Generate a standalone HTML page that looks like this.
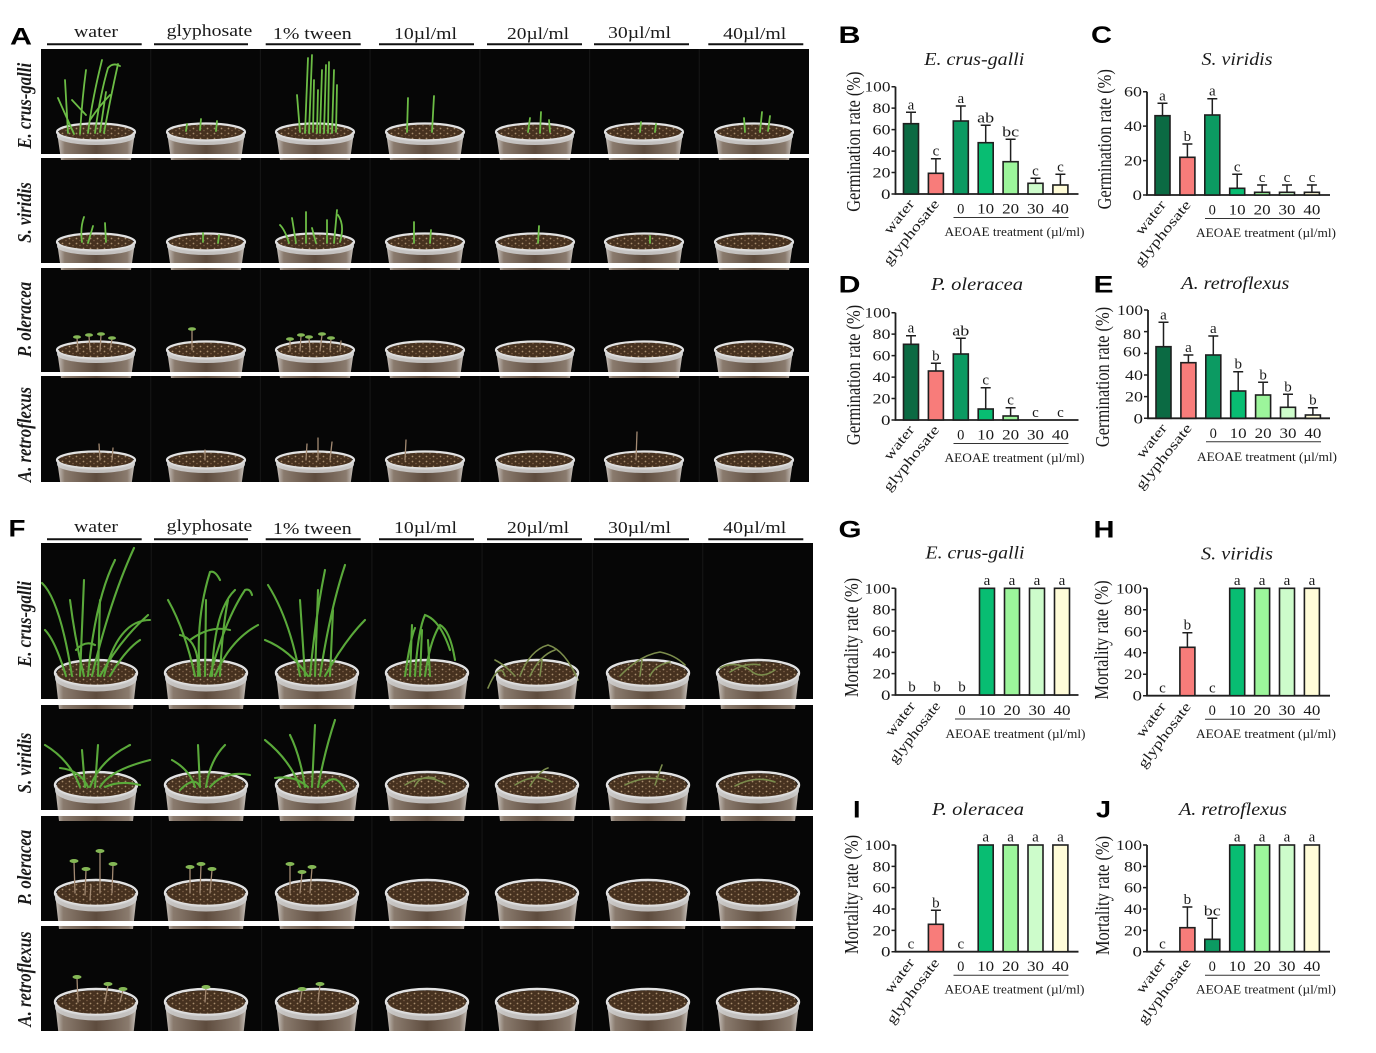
<!DOCTYPE html>
<html><head><meta charset="utf-8"><style>
html,body{margin:0;padding:0;background:#fff;}
svg{display:block;}
.t{font-family:"Liberation Serif",serif;fill:#1a1a1a;}
.pl{font-family:"Liberation Sans",sans-serif;font-weight:bold;fill:#000;}
.ax{stroke:#1f1f1f;stroke-width:1.8;fill:none;}
.tk{stroke:#1f1f1f;stroke-width:1.5;fill:none;}
.er{stroke:#1f1f1f;stroke-width:1.5;fill:none;}
.bars rect{stroke:#1f1f1f;stroke-width:1.6;}
.g1{stroke:#6cbd45;stroke-width:1.8;fill:none;stroke-linecap:round;}
.g2{stroke:#5aa93a;stroke-width:2.1;fill:none;stroke-linecap:round;}
.w{stroke:#7b8c4c;stroke-width:1.6;fill:none;stroke-linecap:round;}
.st{stroke:#a38a72;stroke-width:1.3;fill:none;stroke-linecap:round;}
.hd{fill:#84b755;}
</style></head><body>
<svg width="1376" height="1053" viewBox="0 0 1376 1053" xmlns="http://www.w3.org/2000/svg">
<defs>
<linearGradient id="cupg" x1="0" x2="1" y1="0" y2="0">
<stop offset="0" stop-color="#cfcac5"/><stop offset="0.1" stop-color="#8a7b6e"/><stop offset="0.5" stop-color="#5e4c3e"/><stop offset="0.9" stop-color="#8a7b6e"/><stop offset="1" stop-color="#cfcac5"/>
</linearGradient>
<pattern id="soil" width="7" height="5" patternUnits="userSpaceOnUse">
<rect width="7" height="5" fill="#46311f"/><circle cx="1.5" cy="1.5" r="0.9" fill="#a88c6c"/><circle cx="5" cy="3.5" r="0.8" fill="#7a5e46"/>
</pattern>
<g id="cupA">
<path d="M-39,0 L-35,28 L35,28 L39,0 Z" fill="url(#cupg)"/>
<ellipse rx="37" ry="7.5" fill="url(#soil)"/>
<ellipse rx="39" ry="8.5" fill="none" stroke="#e2e2e2" stroke-width="2.2"/>
</g>
<g id="lipA"><path d="M-39,0 A39,8.5 0 0 0 39,0 L39,4.5 A39,8.5 0 0 1 -39,4.5 Z" fill="#d2d2d2" opacity="0.85"/></g>
<g id="cupF">
<path d="M-41,0 L-37,36 L37,36 L41,0 Z" fill="url(#cupg)"/>
<ellipse rx="39" ry="11.5" fill="url(#soil)"/>
<ellipse rx="41" ry="13" fill="none" stroke="#e2e2e2" stroke-width="2.4"/>
</g>
<g id="lipF"><path d="M-41,0 A41,13 0 0 0 41,0 L41,5.5 A41,13 0 0 1 -41,5.5 Z" fill="#cfcfcf" opacity="0.85"/></g>
<clipPath id="clipA">
<rect x="41" y="49" width="768" height="105"/><rect x="41" y="158" width="768" height="105"/><rect x="41" y="268" width="768" height="104"/><rect x="41" y="376" width="768" height="106"/>
</clipPath>
<clipPath id="clipF">
<rect x="41" y="543" width="772" height="156"/><rect x="41" y="705" width="772" height="105"/><rect x="41" y="816" width="772" height="105"/><rect x="41" y="926" width="772" height="105"/>
</clipPath>
</defs>
<rect width="1376" height="1053" fill="#fff"/>

<!-- ================= PANEL A ================= -->
<text class="pl" x="10" y="44.5" font-size="24" textLength="22" lengthAdjust="spacingAndGlyphs">A</text>
<g class="t" font-size="16.5" text-anchor="middle">
<text x="96" y="37" textLength="44" lengthAdjust="spacingAndGlyphs">water</text>
<text x="209.5" y="36" textLength="85.6" lengthAdjust="spacingAndGlyphs">glyphosate</text>
<text x="312.3" y="39" textLength="78.7" lengthAdjust="spacingAndGlyphs">1% tween</text>
<text x="425.5" y="39" textLength="63" lengthAdjust="spacingAndGlyphs">10µl/ml</text>
<text x="538" y="39" textLength="62" lengthAdjust="spacingAndGlyphs">20µl/ml</text>
<text x="639.5" y="38" textLength="63" lengthAdjust="spacingAndGlyphs">30µl/ml</text>
<text x="754.7" y="39" textLength="63" lengthAdjust="spacingAndGlyphs">40µl/ml</text>
</g>
<path d="M47,44.3H141.7M154,44.3H248M265.7,44.3H360.7M379,44.3H474M487,44.3H582M594,44.3H689M708.3,44.3H803.3" stroke="#111" stroke-width="2"/>
<g class="t" font-size="16.8" font-weight="bold" font-style="italic" text-anchor="middle">
<text transform="translate(31,105.8) scale(1.2,1) rotate(-90)">E. crus-galli</text>
<text transform="translate(31,212.5) scale(1.2,1) rotate(-90)">S. viridis</text>
<text transform="translate(31,319.5) scale(1.2,1) rotate(-90)">P. oleracea</text>
<text transform="translate(31,434.5) scale(1.2,1) rotate(-90)">A. retroflexus</text>
</g>
<g clip-path="url(#clipA)">
<rect x="41" y="40" width="768" height="450" fill="#060606"/>
<path d="M150.7,40V490M260.4,40V490M370.1,40V490M479.9,40V490M589.6,40V490M699.3,40V490" stroke="#141414" stroke-width="1.2"/>
<g>
<use href="#cupA" x="96" y="132"/><use href="#cupA" x="206" y="132"/><use href="#cupA" x="315" y="132"/><use href="#cupA" x="425" y="132"/><use href="#cupA" x="535" y="132"/><use href="#cupA" x="644" y="132"/><use href="#cupA" x="754" y="132"/>
<use href="#cupA" x="96" y="242"/><use href="#cupA" x="206" y="242"/><use href="#cupA" x="315" y="242"/><use href="#cupA" x="425" y="242"/><use href="#cupA" x="535" y="242"/><use href="#cupA" x="644" y="242"/><use href="#cupA" x="754" y="242"/>
<use href="#cupA" x="96" y="350"/><use href="#cupA" x="206" y="350"/><use href="#cupA" x="315" y="350"/><use href="#cupA" x="425" y="350"/><use href="#cupA" x="535" y="350"/><use href="#cupA" x="644" y="350"/><use href="#cupA" x="754" y="350"/>
<use href="#cupA" x="96" y="460"/><use href="#cupA" x="206" y="460"/><use href="#cupA" x="315" y="460"/><use href="#cupA" x="425" y="460"/><use href="#cupA" x="535" y="460"/><use href="#cupA" x="644" y="460"/><use href="#cupA" x="754" y="460"/>
</g>
<!-- plants A -->
<path class="g1" d="M68,133L65,80 M74,134L58,98 M80,134Q82,100 86,70 M88,133Q92,100 102,60 M95,133Q100,95 108,68Q113,62 120,66 M100,132L106,92 M104,133Q110,100 118,64 M86,115L72,100 M90,120Q100,105 110,95"/>
<path class="g1" d="M200,130L201,119 M216,131L217,121 M186,131L187,124"/>
<path class="g1" stroke-width="2" d="M300,132L297,95 M305,133L308,58 M309,133L312,55 M313,132L314,80 M320,133L322,70 M324,133L326,65 M328,133L329,62 M332,133L334,70 M336,132L337,85 M317,133L318,90"/>
<path class="g1" d="M407,132L408,98 M432,132L434,96 M528,132L530,118 M540,133L541,112 M550,132L549,120 M640,132L641,122 M655,132L656,124 M745,132L744,118 M760,132L762,112 M768,131L770,116"/>
<path class="g1" d="M82,242Q80,228 84,217 M88,243L93,226 M106,242L105,223 M203,242L203,233 M218,243L219,235 M289,243Q285,230 280,225 M296,243L292,218 M306,243L306,212 M316,243L312,228 M327,243L327,220 M334,243L337,210 M340,242Q345,225 338,215 M414,243L414,222 M430,243L431,230 M538,243L539,226 M650,243L650,236"/>
<path class="st" d="M78,351L77,338 M90,350L89,336 M100,351L101,335 M110,350L112,339 M192,350L192,330 M290,351L290,340 M300,351L301,336 M310,350L309,338 M320,351L322,335 M330,350L331,339 M340,351L341,341"/>
<g class="hd"><ellipse cx="77" cy="337" rx="4" ry="1.8"/><ellipse cx="89" cy="335" rx="4" ry="1.8"/><ellipse cx="101" cy="334" rx="4" ry="1.8"/><ellipse cx="112" cy="338" rx="4" ry="1.8"/><ellipse cx="192" cy="329" rx="4" ry="1.8"/><ellipse cx="290" cy="339" rx="4" ry="1.8"/><ellipse cx="301" cy="335" rx="4" ry="1.8"/><ellipse cx="309" cy="337" rx="4" ry="1.8"/><ellipse cx="322" cy="334" rx="4" ry="1.8"/><ellipse cx="331" cy="338" rx="4" ry="1.8"/></g>
<path class="st" stroke="#b8a890" d="M100,460L99,444 M112,460L113,448 M205,460L205,450 M306,460L307,444 M318,460L318,438 M330,460L332,442 M405,460L406,440 M636,460L637,432"/>
<g>
<use href="#lipA" x="96" y="132"/><use href="#lipA" x="206" y="132"/><use href="#lipA" x="315" y="132"/><use href="#lipA" x="425" y="132"/><use href="#lipA" x="535" y="132"/><use href="#lipA" x="644" y="132"/><use href="#lipA" x="754" y="132"/>
<use href="#lipA" x="96" y="242"/><use href="#lipA" x="206" y="242"/><use href="#lipA" x="315" y="242"/><use href="#lipA" x="425" y="242"/><use href="#lipA" x="535" y="242"/><use href="#lipA" x="644" y="242"/><use href="#lipA" x="754" y="242"/>
<use href="#lipA" x="96" y="350"/><use href="#lipA" x="206" y="350"/><use href="#lipA" x="315" y="350"/><use href="#lipA" x="425" y="350"/><use href="#lipA" x="535" y="350"/><use href="#lipA" x="644" y="350"/><use href="#lipA" x="754" y="350"/>
<use href="#lipA" x="96" y="460"/><use href="#lipA" x="206" y="460"/><use href="#lipA" x="315" y="460"/><use href="#lipA" x="425" y="460"/><use href="#lipA" x="535" y="460"/><use href="#lipA" x="644" y="460"/><use href="#lipA" x="754" y="460"/>
</g>
</g>

<!-- ================= PANEL F ================= -->
<text class="pl" x="8.5" y="536.5" font-size="24" textLength="17" lengthAdjust="spacingAndGlyphs">F</text>
<g class="t" font-size="16.5" text-anchor="middle">
<text x="96" y="532" textLength="44" lengthAdjust="spacingAndGlyphs">water</text>
<text x="209.5" y="531" textLength="85.6" lengthAdjust="spacingAndGlyphs">glyphosate</text>
<text x="312.3" y="534" textLength="78.7" lengthAdjust="spacingAndGlyphs">1% tween</text>
<text x="425.5" y="533" textLength="63" lengthAdjust="spacingAndGlyphs">10µl/ml</text>
<text x="538" y="533" textLength="62" lengthAdjust="spacingAndGlyphs">20µl/ml</text>
<text x="639.5" y="533" textLength="63" lengthAdjust="spacingAndGlyphs">30µl/ml</text>
<text x="754.7" y="533" textLength="63" lengthAdjust="spacingAndGlyphs">40µl/ml</text>
</g>
<path d="M47,539.3H141.7M154,539.3H248M265.7,539.3H360.7M379,539.3H474M487,539.3H582M594,539.3H689M708.3,539.3H803.3" stroke="#111" stroke-width="2"/>
<g class="t" font-size="16.8" font-weight="bold" font-style="italic" text-anchor="middle">
<text transform="translate(31,624) scale(1.2,1) rotate(-90)">E. crus-galli</text>
<text transform="translate(31,763) scale(1.2,1) rotate(-90)">S. viridis</text>
<text transform="translate(31,867.5) scale(1.2,1) rotate(-90)">P. oleracea</text>
<text transform="translate(31,979) scale(1.2,1) rotate(-90)">A. retroflexus</text>
</g>
<g clip-path="url(#clipF)">
<rect x="41" y="540" width="772" height="495" fill="#060606"/>
<path d="M151.3,540V1035M261.6,540V1035M371.9,540V1035M482.1,540V1035M592.4,540V1035M702.7,540V1035" stroke="#141414" stroke-width="1.2"/>
<g>
<use href="#cupF" x="96" y="673"/><use href="#cupF" x="206" y="673"/><use href="#cupF" x="317" y="673"/><use href="#cupF" x="427" y="673"/><use href="#cupF" x="537" y="673"/><use href="#cupF" x="648" y="673"/><use href="#cupF" x="758" y="673"/>
<use href="#cupF" x="96" y="785"/><use href="#cupF" x="206" y="785"/><use href="#cupF" x="317" y="785"/><use href="#cupF" x="427" y="785"/><use href="#cupF" x="537" y="785"/><use href="#cupF" x="648" y="785"/><use href="#cupF" x="758" y="785"/>
<use href="#cupF" x="96" y="893"/><use href="#cupF" x="206" y="893"/><use href="#cupF" x="317" y="893"/><use href="#cupF" x="427" y="893"/><use href="#cupF" x="537" y="893"/><use href="#cupF" x="648" y="893"/><use href="#cupF" x="758" y="893"/>
<use href="#cupF" x="96" y="1002"/><use href="#cupF" x="206" y="1002"/><use href="#cupF" x="317" y="1002"/><use href="#cupF" x="427" y="1002"/><use href="#cupF" x="537" y="1002"/><use href="#cupF" x="648" y="1002"/><use href="#cupF" x="758" y="1002"/>
</g>
<!-- plants F -->
<path class="g2" d="M72,676Q60,600 42,583 M80,676L84,580 M88,676Q95,600 115,560 M92,676Q110,600 134,548 M98,676L100,600 M104,676Q118,620 150,620 M100,676Q120,640 148,615 M84,676Q75,640 70,600 M110,676Q125,650 140,640 M76,650Q85,640 95,645 M66,676Q55,640 45,630"/>
<path class="g2" d="M195,676Q185,630 168,600 M200,676Q195,620 210,572Q215,570 220,580 M205,676L206,600 M210,676Q225,620 245,590Q250,588 252,595 M215,676Q230,640 258,625 M198,676Q200,640 180,635 M212,676Q214,610 235,590 M190,640Q210,625 230,630 M220,676Q222,630 228,600"/>
<path class="g2" d="M300,676Q290,620 268,585 M305,676L300,600 M310,676Q315,620 325,570 M315,676L318,590 M320,676Q330,610 345,565 M325,676Q345,640 365,620 M308,676Q290,650 265,640 M330,676L333,610"/>
<path class="g2" stroke="#5f9e3c" stroke-width="1.8" d="M410,676L412,625 M415,676Q418,630 425,615Q440,620 450,650 M420,676L422,630 M425,676Q430,640 440,625Q450,630 455,660 M430,676L428,640 M405,676Q410,640 415,628"/>
<path class="w" stroke="#6a9a40" d="M505,676Q500,660 488,688 M520,676Q530,650 548,645Q565,650 578,680 M530,676Q540,655 555,650 M540,676L542,660 M515,676Q505,665 495,660 M620,676Q640,655 660,652Q675,655 685,665 M640,676L642,660 M650,676Q655,665 670,662"/>
<path class="w" stroke="#8a8a50" d="M720,668Q735,660 750,670Q760,680 775,670 M730,672Q745,662 760,665"/>
<path class="g2" d="M80,787Q70,760 45,745 M85,787L82,750 M90,787Q100,760 130,745 M95,787L98,745 M100,787Q110,770 150,760 M88,787Q80,770 60,768 M105,787Q120,780 140,785"/>
<path class="g2" d="M195,787Q190,770 172,760 M200,787L198,745 M206,787Q210,760 225,745 M210,787Q225,770 250,775 M200,787Q195,775 180,790"/>
<path class="g2" d="M300,787Q290,760 265,740 M305,787Q300,755 290,735 M312,787L315,725 M318,787Q325,750 335,720 M322,787Q335,770 345,790 M308,787Q295,775 275,778"/>
<path class="w" stroke="#6f8b4a" d="M405,785Q425,772 445,784 M415,786Q420,775 435,778 M515,785Q535,772 552,782 M530,786Q540,770 548,768 M625,785Q645,775 665,780 M655,785Q660,770 662,765 M735,786Q755,775 775,782"/>
<path class="st" d="M75,893L74,862 M85,895L86,870 M100,893L100,852 M112,893L113,865 M90,900L91,885 M190,893L190,868 M200,893L201,865 M210,893L212,870 M290,893L290,865 M300,893L302,873 M310,893L312,868"/>
<g class="hd"><ellipse cx="74" cy="861" rx="4.5" ry="2"/><ellipse cx="86" cy="869" rx="4.5" ry="2"/><ellipse cx="100" cy="851" rx="4.5" ry="2"/><ellipse cx="113" cy="864" rx="4.5" ry="2"/><ellipse cx="190" cy="867" rx="4.5" ry="2"/><ellipse cx="201" cy="864" rx="4.5" ry="2"/><ellipse cx="212" cy="869" rx="4.5" ry="2"/><ellipse cx="290" cy="864" rx="4.5" ry="2"/><ellipse cx="302" cy="872" rx="4.5" ry="2"/><ellipse cx="312" cy="867" rx="4.5" ry="2"/></g>
<path class="st" d="M78,1002L77,978 M105,1002L108,985 M120,1002L123,990 M205,1002L206,988 M300,1002L302,990 M318,1002L320,985"/>
<g class="hd"><ellipse cx="77" cy="977" rx="4.5" ry="2"/><ellipse cx="108" cy="984" rx="4.5" ry="2"/><ellipse cx="123" cy="989" rx="4.5" ry="2"/><ellipse cx="206" cy="987" rx="4.5" ry="2"/><ellipse cx="302" cy="989" rx="4.5" ry="2"/><ellipse cx="320" cy="984" rx="4.5" ry="2"/></g>
<g>
<use href="#lipF" x="96" y="673"/><use href="#lipF" x="206" y="673"/><use href="#lipF" x="317" y="673"/><use href="#lipF" x="427" y="673"/><use href="#lipF" x="537" y="673"/><use href="#lipF" x="648" y="673"/><use href="#lipF" x="758" y="673"/>
<use href="#lipF" x="96" y="785"/><use href="#lipF" x="206" y="785"/><use href="#lipF" x="317" y="785"/><use href="#lipF" x="427" y="785"/><use href="#lipF" x="537" y="785"/><use href="#lipF" x="648" y="785"/><use href="#lipF" x="758" y="785"/>
<use href="#lipF" x="96" y="893"/><use href="#lipF" x="206" y="893"/><use href="#lipF" x="317" y="893"/><use href="#lipF" x="427" y="893"/><use href="#lipF" x="537" y="893"/><use href="#lipF" x="648" y="893"/><use href="#lipF" x="758" y="893"/>
<use href="#lipF" x="96" y="1002"/><use href="#lipF" x="206" y="1002"/><use href="#lipF" x="317" y="1002"/><use href="#lipF" x="427" y="1002"/><use href="#lipF" x="537" y="1002"/><use href="#lipF" x="648" y="1002"/><use href="#lipF" x="758" y="1002"/>
</g>
</g>

<!-- ================= PANEL LETTERS & TITLES ================= -->
<g class="pl" font-size="24">
<text x="838.5" y="43" textLength="22" lengthAdjust="spacingAndGlyphs">B</text>
<text x="1091" y="43" textLength="21" lengthAdjust="spacingAndGlyphs">C</text>
<text x="838.5" y="292.5" textLength="22" lengthAdjust="spacingAndGlyphs">D</text>
<text x="1093.5" y="292.5" textLength="20" lengthAdjust="spacingAndGlyphs">E</text>
<text x="838.5" y="537.5" textLength="23" lengthAdjust="spacingAndGlyphs">G</text>
<text x="1093.5" y="537.5" textLength="21" lengthAdjust="spacingAndGlyphs">H</text>
<text x="853" y="817.5" textLength="7.5" lengthAdjust="spacingAndGlyphs">I</text>
<text x="1096" y="817.5" textLength="15" lengthAdjust="spacingAndGlyphs">J</text>
</g>
<g class="t" font-size="17.5" font-style="italic" text-anchor="middle">
<text x="974.3" y="65" textLength="100" lengthAdjust="spacingAndGlyphs">E. crus-galli</text>
<text x="1237" y="65" textLength="71" lengthAdjust="spacingAndGlyphs">S. viridis</text>
<text x="977" y="290" textLength="92" lengthAdjust="spacingAndGlyphs">P. oleracea</text>
<text x="1235.3" y="289" textLength="108" lengthAdjust="spacingAndGlyphs">A. retroflexus</text>
<text x="975" y="558.3" textLength="99" lengthAdjust="spacingAndGlyphs">E. crus-galli</text>
<text x="1237" y="559.3" textLength="72" lengthAdjust="spacingAndGlyphs">S. viridis</text>
<text x="978" y="815" textLength="92" lengthAdjust="spacingAndGlyphs">P. oleracea</text>
<text x="1233" y="815" textLength="108" lengthAdjust="spacingAndGlyphs">A. retroflexus</text>
</g>

<!-- ================= CHART B ================= -->
<g transform="translate(895.5,194)">
<path class="ax" d="M0,-107.3V0H183"/>
<path class="tk" d="M-4,0H0M-4,-21.46H0M-4,-42.92H0M-4,-64.38H0M-4,-85.84H0M-4,-107.3H0"/>
<g class="t" font-size="14.5" text-anchor="end">
<text x="-5" y="5" textLength="9.5" lengthAdjust="spacingAndGlyphs">0</text>
<text x="-5" y="-16.46" textLength="18" lengthAdjust="spacingAndGlyphs">20</text>
<text x="-5" y="-37.92" textLength="18" lengthAdjust="spacingAndGlyphs">40</text>
<text x="-5" y="-59.38" textLength="18" lengthAdjust="spacingAndGlyphs">60</text>
<text x="-5" y="-80.84" textLength="18" lengthAdjust="spacingAndGlyphs">80</text>
<text x="-5" y="-102.3" textLength="26" lengthAdjust="spacingAndGlyphs">100</text>
</g>
<g class="bars">
<rect x="8" y="-70.3" width="15" height="70.3" fill="#0b6a43"/>
<rect x="32.9" y="-20.7" width="15" height="20.7" fill="#f87c7a"/>
<rect x="57.8" y="-73" width="15" height="73" fill="#0c9a62"/>
<rect x="82.7" y="-51.3" width="15" height="51.3" fill="#08bd72"/>
<rect x="107.6" y="-32.3" width="15" height="32.3" fill="#9cf59b"/>
<rect x="132.5" y="-10.7" width="15" height="10.7" fill="#cdfccb"/>
<rect x="157.4" y="-9" width="15" height="9" fill="#fffcd8"/>
</g>
<path class="er" d="M15.5,-70.3V-81.7M10.5,-81.7H20.5 M40.4,-20.7V-35.3M35.4,-35.3H45.4 M65.3,-73V-88M60.3,-88H70.3 M90.2,-51.3V-68.7M85.2,-68.7H95.2 M115.1,-32.3V-54.7M110.1,-54.7H120.1 M140,-10.7V-15.7M135,-15.7H145 M164.9,-9V-19.7M159.9,-19.7H169.9"/>
<g class="t" font-size="15" text-anchor="middle">
<text x="15.5" y="-84.7">a</text><text x="40.4" y="-38.3">c</text><text x="65.3" y="-91">a</text><text x="90.2" y="-71.7" textLength="17" lengthAdjust="spacingAndGlyphs">ab</text><text x="115.1" y="-57.7" textLength="17" lengthAdjust="spacingAndGlyphs">bc</text><text x="140" y="-18.7">c</text><text x="164.9" y="-22.7">c</text>
</g>
<g class="t" font-size="14.5" text-anchor="middle">
<text x="65.3" y="19.5">0</text><text x="90.2" y="19.5" textLength="17" lengthAdjust="spacingAndGlyphs">10</text><text x="115.1" y="19.5" textLength="17" lengthAdjust="spacingAndGlyphs">20</text><text x="140" y="19.5" textLength="17" lengthAdjust="spacingAndGlyphs">30</text><text x="164.9" y="19.5" textLength="17" lengthAdjust="spacingAndGlyphs">40</text>
</g>
<path d="M58,23.5H173" stroke="#333" stroke-width="1"/>
<text class="t" x="119" y="42" font-size="12.5" text-anchor="middle" textLength="140" lengthAdjust="spacingAndGlyphs">AEOAE treatment (µl/ml)</text>
<g class="t" font-size="14" text-anchor="end">
<text transform="translate(19.5,10) rotate(-51)" textLength="40" lengthAdjust="spacingAndGlyphs">water</text>
<text transform="translate(44.4,10) rotate(-51)" textLength="80" lengthAdjust="spacingAndGlyphs">glyphosate</text>
</g>
<text class="t" font-size="16.4" text-anchor="middle" transform="translate(-35.5,-52.3) scale(1.2,1) rotate(-90)">Germination rate (%)</text>
</g>

<!-- ================= CHART C ================= -->
<g transform="translate(1147,195)">
<path class="ax" d="M0,-103.3V0H183"/>
<path class="tk" d="M-4,0H0M-4,-34.43H0M-4,-68.87H0M-4,-103.3H0"/>
<g class="t" font-size="14.5" text-anchor="end">
<text x="-5" y="5" textLength="9.5" lengthAdjust="spacingAndGlyphs">0</text>
<text x="-5" y="-29.43" textLength="18" lengthAdjust="spacingAndGlyphs">20</text>
<text x="-5" y="-63.87" textLength="18" lengthAdjust="spacingAndGlyphs">40</text>
<text x="-5" y="-98.3" textLength="18" lengthAdjust="spacingAndGlyphs">60</text>
</g>
<g class="bars">
<rect x="8" y="-79.3" width="15" height="79.3" fill="#0b6a43"/>
<rect x="32.9" y="-37.7" width="15" height="37.7" fill="#f87c7a"/>
<rect x="57.8" y="-80" width="15" height="80" fill="#0c9a62"/>
<rect x="82.7" y="-6.7" width="15" height="6.7" fill="#08bd72"/>
<rect x="107.6" y="-2.7" width="15" height="2.7" fill="#9cf59b"/>
<rect x="132.5" y="-2.7" width="15" height="2.7" fill="#cdfccb"/>
<rect x="157.4" y="-2.7" width="15" height="2.7" fill="#fffcd8"/>
</g>
<path class="er" d="M15.5,-79.3V-91.7M10.5,-91.7H20.5 M40.4,-37.7V-51M35.4,-51H45.4 M65.3,-80V-96.3M60.3,-96.3H70.3 M90.2,-6.7V-20.7M85.2,-20.7H95.2 M115.1,-2.7V-10M110.1,-10H120.1 M140,-2.7V-10M135,-10H145 M164.9,-2.7V-10M159.9,-10H169.9"/>
<g class="t" font-size="15" text-anchor="middle">
<text x="15.5" y="-94.7">a</text><text x="40.4" y="-54">b</text><text x="65.3" y="-99.3">a</text><text x="90.2" y="-23.7">c</text><text x="115.1" y="-13">c</text><text x="140" y="-13">c</text><text x="164.9" y="-13">c</text>
</g>
<g class="t" font-size="14.5" text-anchor="middle">
<text x="65.3" y="19.5">0</text><text x="90.2" y="19.5" textLength="17" lengthAdjust="spacingAndGlyphs">10</text><text x="115.1" y="19.5" textLength="17" lengthAdjust="spacingAndGlyphs">20</text><text x="140" y="19.5" textLength="17" lengthAdjust="spacingAndGlyphs">30</text><text x="164.9" y="19.5" textLength="17" lengthAdjust="spacingAndGlyphs">40</text>
</g>
<path d="M58,23.5H173" stroke="#333" stroke-width="1"/>
<text class="t" x="119" y="42" font-size="12.5" text-anchor="middle" textLength="140" lengthAdjust="spacingAndGlyphs">AEOAE treatment (µl/ml)</text>
<g class="t" font-size="14" text-anchor="end">
<text transform="translate(19.5,10) rotate(-51)" textLength="40" lengthAdjust="spacingAndGlyphs">water</text>
<text transform="translate(44.4,10) rotate(-51)" textLength="80" lengthAdjust="spacingAndGlyphs">glyphosate</text>
</g>
<text class="t" font-size="16.4" text-anchor="middle" transform="translate(-36,-55.7) scale(1.2,1) rotate(-90)">Germination rate (%)</text>
</g>

<!-- ================= CHART D ================= -->
<g transform="translate(895.5,420)">
<path class="ax" d="M0,-107.3V0H183"/>
<path class="tk" d="M-4,0H0M-4,-21.46H0M-4,-42.92H0M-4,-64.38H0M-4,-85.84H0M-4,-107.3H0"/>
<g class="t" font-size="14.5" text-anchor="end">
<text x="-5" y="5" textLength="9.5" lengthAdjust="spacingAndGlyphs">0</text>
<text x="-5" y="-16.46" textLength="18" lengthAdjust="spacingAndGlyphs">20</text>
<text x="-5" y="-37.92" textLength="18" lengthAdjust="spacingAndGlyphs">40</text>
<text x="-5" y="-59.38" textLength="18" lengthAdjust="spacingAndGlyphs">60</text>
<text x="-5" y="-80.84" textLength="18" lengthAdjust="spacingAndGlyphs">80</text>
<text x="-5" y="-102.3" textLength="26" lengthAdjust="spacingAndGlyphs">100</text>
</g>
<g class="bars">
<rect x="8" y="-75.7" width="15" height="75.7" fill="#0b6a43"/>
<rect x="32.9" y="-49" width="15" height="49" fill="#f87c7a"/>
<rect x="57.8" y="-66" width="15" height="66" fill="#0c9a62"/>
<rect x="82.7" y="-11" width="15" height="11" fill="#08bd72"/>
<rect x="107.6" y="-4" width="15" height="4" fill="#9cf59b"/>
</g>
<path class="er" d="M15.5,-75.7V-84.3M10.5,-84.3H20.5 M40.4,-49V-56.7M35.4,-56.7H45.4 M65.3,-66V-81.7M60.3,-81.7H70.3 M90.2,-11V-32.3M85.2,-32.3H95.2 M115.1,-4V-12.3M110.1,-12.3H120.1"/>
<g class="t" font-size="15" text-anchor="middle">
<text x="15.5" y="-87.3">a</text><text x="40.4" y="-59.7">b</text><text x="65.3" y="-84.7" textLength="17" lengthAdjust="spacingAndGlyphs">ab</text><text x="90.2" y="-35.3">c</text><text x="115.1" y="-15.3">c</text><text x="140" y="-3">c</text><text x="164.9" y="-3">c</text>
</g>
<g class="t" font-size="14.5" text-anchor="middle">
<text x="65.3" y="19.5">0</text><text x="90.2" y="19.5" textLength="17" lengthAdjust="spacingAndGlyphs">10</text><text x="115.1" y="19.5" textLength="17" lengthAdjust="spacingAndGlyphs">20</text><text x="140" y="19.5" textLength="17" lengthAdjust="spacingAndGlyphs">30</text><text x="164.9" y="19.5" textLength="17" lengthAdjust="spacingAndGlyphs">40</text>
</g>
<path d="M58,23.5H173" stroke="#333" stroke-width="1"/>
<text class="t" x="119" y="42" font-size="12.5" text-anchor="middle" textLength="140" lengthAdjust="spacingAndGlyphs">AEOAE treatment (µl/ml)</text>
<g class="t" font-size="14" text-anchor="end">
<text transform="translate(19.5,10) rotate(-51)" textLength="40" lengthAdjust="spacingAndGlyphs">water</text>
<text transform="translate(44.4,10) rotate(-51)" textLength="80" lengthAdjust="spacingAndGlyphs">glyphosate</text>
</g>
<text class="t" font-size="16.4" text-anchor="middle" transform="translate(-35.5,-45) scale(1.2,1) rotate(-90)">Germination rate (%)</text>
</g>

<!-- ================= CHART E ================= -->
<g transform="translate(1148,418.3)">
<path class="ax" d="M0,-108.3V0H182"/>
<path class="tk" d="M-4,0H0M-4,-21.66H0M-4,-43.32H0M-4,-64.98H0M-4,-86.64H0M-4,-108.3H0"/>
<g class="t" font-size="14.5" text-anchor="end">
<text x="-5" y="5" textLength="9.5" lengthAdjust="spacingAndGlyphs">0</text>
<text x="-5" y="-16.66" textLength="18" lengthAdjust="spacingAndGlyphs">20</text>
<text x="-5" y="-38.32" textLength="18" lengthAdjust="spacingAndGlyphs">40</text>
<text x="-7" y="-61.7" textLength="18" lengthAdjust="spacingAndGlyphs">60</text>
<text x="-7" y="-79.2" textLength="18" lengthAdjust="spacingAndGlyphs">80</text>
<text x="-5" y="-103.3" textLength="26" lengthAdjust="spacingAndGlyphs">100</text>
</g>
<g class="bars">
<rect x="8" y="-71.6" width="15" height="71.6" fill="#0b6a43"/>
<rect x="32.9" y="-55.6" width="15" height="55.6" fill="#f87c7a"/>
<rect x="57.8" y="-63.3" width="15" height="63.3" fill="#0c9a62"/>
<rect x="82.7" y="-27.3" width="15" height="27.3" fill="#08bd72"/>
<rect x="107.6" y="-23.3" width="15" height="23.3" fill="#9cf59b"/>
<rect x="132.5" y="-11" width="15" height="11" fill="#cdfccb"/>
<rect x="157.4" y="-3.3" width="15" height="3.3" fill="#fffcd8"/>
</g>
<path class="er" d="M15.5,-71.6V-96M10.5,-96H20.5 M40.4,-55.6V-63.3M35.4,-63.3H45.4 M65.3,-63.3V-82.3M60.3,-82.3H70.3 M90.2,-27.3V-46.6M85.2,-46.6H95.2 M115.1,-23.3V-36M110.1,-36H120.1 M140,-11V-24M135,-24H145 M164.9,-3.3V-10.6M159.9,-10.6H169.9"/>
<g class="t" font-size="15" text-anchor="middle">
<text x="15.5" y="-99">a</text><text x="40.4" y="-66.3">a</text><text x="65.3" y="-85.3">a</text><text x="90.2" y="-49.6">b</text><text x="115.1" y="-39">b</text><text x="140" y="-27">b</text><text x="164.9" y="-13.6">b</text>
</g>
<g class="t" font-size="14.5" text-anchor="middle">
<text x="65.3" y="19.5">0</text><text x="90.2" y="19.5" textLength="17" lengthAdjust="spacingAndGlyphs">10</text><text x="115.1" y="19.5" textLength="17" lengthAdjust="spacingAndGlyphs">20</text><text x="140" y="19.5" textLength="17" lengthAdjust="spacingAndGlyphs">30</text><text x="164.9" y="19.5" textLength="17" lengthAdjust="spacingAndGlyphs">40</text>
</g>
<path d="M58,23.5H173" stroke="#333" stroke-width="1"/>
<text class="t" x="119" y="42.5" font-size="12.5" text-anchor="middle" textLength="140" lengthAdjust="spacingAndGlyphs">AEOAE treatment (µl/ml)</text>
<g class="t" font-size="14" text-anchor="end">
<text transform="translate(19.5,10) rotate(-51)" textLength="40" lengthAdjust="spacingAndGlyphs">water</text>
<text transform="translate(44.4,10) rotate(-51)" textLength="80" lengthAdjust="spacingAndGlyphs">glyphosate</text>
</g>
<text class="t" font-size="16.4" text-anchor="middle" transform="translate(-39,-41.3) scale(1.2,1) rotate(-90)">Germination rate (%)</text>
</g>

<!-- ================= CHART G ================= -->
<g transform="translate(895.5,695)">
<path class="ax" d="M0,-106.7V0H183"/>
<path class="tk" d="M-4,0H0M-4,-21.34H0M-4,-42.68H0M-4,-64.02H0M-4,-85.36H0M-4,-106.7H0"/>
<g class="t" font-size="14.5" text-anchor="end">
<text x="-5" y="5" textLength="9.5" lengthAdjust="spacingAndGlyphs">0</text>
<text x="-5" y="-16.34" textLength="18" lengthAdjust="spacingAndGlyphs">20</text>
<text x="-5" y="-37.68" textLength="18" lengthAdjust="spacingAndGlyphs">40</text>
<text x="-5" y="-59.02" textLength="18" lengthAdjust="spacingAndGlyphs">60</text>
<text x="-5" y="-80.36" textLength="18" lengthAdjust="spacingAndGlyphs">80</text>
<text x="-5" y="-101.7" textLength="26" lengthAdjust="spacingAndGlyphs">100</text>
</g>
<g class="bars">
<rect x="84" y="-106.7" width="15" height="106.7" fill="#08bd72"/>
<rect x="109" y="-106.7" width="15" height="106.7" fill="#9cf59b"/>
<rect x="134" y="-106.7" width="15" height="106.7" fill="#cdfccb"/>
<rect x="159" y="-106.7" width="15" height="106.7" fill="#fffcd8"/>
</g>
<g class="t" font-size="15" text-anchor="middle">
<text x="16.5" y="-3.3">b</text><text x="41.5" y="-3.3">b</text><text x="66.5" y="-3.3">b</text><text x="91.5" y="-110">a</text><text x="116.5" y="-110">a</text><text x="141.5" y="-110">a</text><text x="166.5" y="-110">a</text>
</g>
<g class="t" font-size="14.5" text-anchor="middle">
<text x="66.5" y="20">0</text><text x="91.5" y="20" textLength="17" lengthAdjust="spacingAndGlyphs">10</text><text x="116.5" y="20" textLength="17" lengthAdjust="spacingAndGlyphs">20</text><text x="141.5" y="20" textLength="17" lengthAdjust="spacingAndGlyphs">30</text><text x="166.5" y="20" textLength="17" lengthAdjust="spacingAndGlyphs">40</text>
</g>
<path d="M59.5,24H174.5" stroke="#333" stroke-width="1"/>
<text class="t" x="120" y="43" font-size="12.5" text-anchor="middle" textLength="140" lengthAdjust="spacingAndGlyphs">AEOAE treatment (µl/ml)</text>
<g class="t" font-size="14" text-anchor="end">
<text transform="translate(20.5,11) rotate(-52)" textLength="40" lengthAdjust="spacingAndGlyphs">water</text>
<text transform="translate(45.5,11) rotate(-52)" textLength="74" lengthAdjust="spacingAndGlyphs">glyphosate</text>
</g>
<text class="t" font-size="16.4" text-anchor="middle" transform="translate(-37.5,-57.5) scale(1.2,1) rotate(-90)">Mortality rate (%)</text>
</g>

<!-- ================= CHART H ================= -->
<g transform="translate(1147,695.7)">
<path class="ax" d="M0,-107.4V0H183"/>
<path class="tk" d="M-4,0H0M-4,-21.48H0M-4,-42.96H0M-4,-64.44H0M-4,-85.92H0M-4,-107.4H0"/>
<g class="t" font-size="14.5" text-anchor="end">
<text x="-5" y="5" textLength="9.5" lengthAdjust="spacingAndGlyphs">0</text>
<text x="-5" y="-16.48" textLength="18" lengthAdjust="spacingAndGlyphs">20</text>
<text x="-5" y="-37.96" textLength="18" lengthAdjust="spacingAndGlyphs">40</text>
<text x="-5" y="-59.44" textLength="18" lengthAdjust="spacingAndGlyphs">60</text>
<text x="-5" y="-80.92" textLength="18" lengthAdjust="spacingAndGlyphs">80</text>
<text x="-5" y="-102.4" textLength="26" lengthAdjust="spacingAndGlyphs">100</text>
</g>
<g class="bars">
<rect x="32.9" y="-48.4" width="15" height="48.4" fill="#f87c7a"/>
<rect x="82.7" y="-107.4" width="15" height="107.4" fill="#08bd72"/>
<rect x="107.6" y="-107.4" width="15" height="107.4" fill="#9cf59b"/>
<rect x="132.5" y="-107.4" width="15" height="107.4" fill="#cdfccb"/>
<rect x="157.4" y="-107.4" width="15" height="107.4" fill="#fffcd8"/>
</g>
<path class="er" d="M40.4,-48.4V-63M35.4,-63H45.4"/>
<g class="t" font-size="15" text-anchor="middle">
<text x="15.5" y="-3.3">c</text><text x="40.4" y="-66">b</text><text x="65.3" y="-3.3">c</text><text x="90.2" y="-110.7">a</text><text x="115.1" y="-110.7">a</text><text x="140" y="-110.7">a</text><text x="164.9" y="-110.7">a</text>
</g>
<g class="t" font-size="14.5" text-anchor="middle">
<text x="65.3" y="19.5">0</text><text x="90.2" y="19.5" textLength="17" lengthAdjust="spacingAndGlyphs">10</text><text x="115.1" y="19.5" textLength="17" lengthAdjust="spacingAndGlyphs">20</text><text x="140" y="19.5" textLength="17" lengthAdjust="spacingAndGlyphs">30</text><text x="164.9" y="19.5" textLength="17" lengthAdjust="spacingAndGlyphs">40</text>
</g>
<path d="M58,23.5H173" stroke="#333" stroke-width="1"/>
<text class="t" x="119" y="42.5" font-size="12.5" text-anchor="middle" textLength="140" lengthAdjust="spacingAndGlyphs">AEOAE treatment (µl/ml)</text>
<g class="t" font-size="14" text-anchor="end">
<text transform="translate(19.5,11) rotate(-53)" textLength="40" lengthAdjust="spacingAndGlyphs">water</text>
<text transform="translate(44.4,11) rotate(-53)" textLength="78" lengthAdjust="spacingAndGlyphs">glyphosate</text>
</g>
<text class="t" font-size="16.4" text-anchor="middle" transform="translate(-39,-55.7) scale(1.2,1) rotate(-90)">Mortality rate (%)</text>
</g>

<!-- ================= CHART I ================= -->
<g transform="translate(895.5,951.7)">
<path class="ax" d="M0,-106.7V0H183"/>
<path class="tk" d="M-4,0H0M-4,-21.34H0M-4,-42.68H0M-4,-64.02H0M-4,-85.36H0M-4,-106.7H0"/>
<g class="t" font-size="14.5" text-anchor="end">
<text x="-5" y="5" textLength="9.5" lengthAdjust="spacingAndGlyphs">0</text>
<text x="-5" y="-16.34" textLength="18" lengthAdjust="spacingAndGlyphs">20</text>
<text x="-5" y="-37.68" textLength="18" lengthAdjust="spacingAndGlyphs">40</text>
<text x="-5" y="-59.02" textLength="18" lengthAdjust="spacingAndGlyphs">60</text>
<text x="-5" y="-80.36" textLength="18" lengthAdjust="spacingAndGlyphs">80</text>
<text x="-5" y="-101.7" textLength="26" lengthAdjust="spacingAndGlyphs">100</text>
</g>
<g class="bars">
<rect x="32.9" y="-27.4" width="15" height="27.4" fill="#f87c7a"/>
<rect x="82.7" y="-106.7" width="15" height="106.7" fill="#08bd72"/>
<rect x="107.6" y="-106.7" width="15" height="106.7" fill="#9cf59b"/>
<rect x="132.5" y="-106.7" width="15" height="106.7" fill="#cdfccb"/>
<rect x="157.4" y="-106.7" width="15" height="106.7" fill="#fffcd8"/>
</g>
<path class="er" d="M40.4,-27.4V-41.4M35.4,-41.4H45.4"/>
<g class="t" font-size="15" text-anchor="middle">
<text x="15.5" y="-3.3">c</text><text x="40.4" y="-44.4">b</text><text x="65.3" y="-3.3">c</text><text x="90.2" y="-110">a</text><text x="115.1" y="-110">a</text><text x="140" y="-110">a</text><text x="164.9" y="-110">a</text>
</g>
<g class="t" font-size="14.5" text-anchor="middle">
<text x="65.3" y="19.5">0</text><text x="90.2" y="19.5" textLength="17" lengthAdjust="spacingAndGlyphs">10</text><text x="115.1" y="19.5" textLength="17" lengthAdjust="spacingAndGlyphs">20</text><text x="140" y="19.5" textLength="17" lengthAdjust="spacingAndGlyphs">30</text><text x="164.9" y="19.5" textLength="17" lengthAdjust="spacingAndGlyphs">40</text>
</g>
<path d="M58,23.5H173" stroke="#333" stroke-width="1"/>
<text class="t" x="119" y="42" font-size="12.5" text-anchor="middle" textLength="140" lengthAdjust="spacingAndGlyphs">AEOAE treatment (µl/ml)</text>
<g class="t" font-size="14" text-anchor="end">
<text transform="translate(19.5,11) rotate(-53)" textLength="40" lengthAdjust="spacingAndGlyphs">water</text>
<text transform="translate(44.4,11) rotate(-53)" textLength="78" lengthAdjust="spacingAndGlyphs">glyphosate</text>
</g>
<text class="t" font-size="16.4" text-anchor="middle" transform="translate(-37.5,-57.2) scale(1.2,1) rotate(-90)">Mortality rate (%)</text>
</g>

<!-- ================= CHART J ================= -->
<g transform="translate(1147,951.7)">
<path class="ax" d="M0,-106.7V0H183"/>
<path class="tk" d="M-4,0H0M-4,-21.34H0M-4,-42.68H0M-4,-64.02H0M-4,-85.36H0M-4,-106.7H0"/>
<g class="t" font-size="14.5" text-anchor="end">
<text x="-5" y="5" textLength="9.5" lengthAdjust="spacingAndGlyphs">0</text>
<text x="-5" y="-16.34" textLength="18" lengthAdjust="spacingAndGlyphs">20</text>
<text x="-5" y="-37.68" textLength="18" lengthAdjust="spacingAndGlyphs">40</text>
<text x="-5" y="-59.02" textLength="18" lengthAdjust="spacingAndGlyphs">60</text>
<text x="-5" y="-80.36" textLength="18" lengthAdjust="spacingAndGlyphs">80</text>
<text x="-5" y="-101.7" textLength="26" lengthAdjust="spacingAndGlyphs">100</text>
</g>
<g class="bars">
<rect x="32.9" y="-24" width="15" height="24" fill="#f87c7a"/>
<rect x="57.8" y="-12.4" width="15" height="12.4" fill="#0c9a62"/>
<rect x="82.7" y="-106.7" width="15" height="106.7" fill="#08bd72"/>
<rect x="107.6" y="-106.7" width="15" height="106.7" fill="#9cf59b"/>
<rect x="132.5" y="-106.7" width="15" height="106.7" fill="#cdfccb"/>
<rect x="157.4" y="-106.7" width="15" height="106.7" fill="#fffcd8"/>
</g>
<path class="er" d="M40.4,-24V-44.7M35.4,-44.7H45.4 M65.3,-12.4V-33.4M60.3,-33.4H70.3"/>
<g class="t" font-size="15" text-anchor="middle">
<text x="15.5" y="-3.3">c</text><text x="40.4" y="-47.7">b</text><text x="65.3" y="-36.4" textLength="17" lengthAdjust="spacingAndGlyphs">bc</text><text x="90.2" y="-110">a</text><text x="115.1" y="-110">a</text><text x="140" y="-110">a</text><text x="164.9" y="-110">a</text>
</g>
<g class="t" font-size="14.5" text-anchor="middle">
<text x="65.3" y="19.5">0</text><text x="90.2" y="19.5" textLength="17" lengthAdjust="spacingAndGlyphs">10</text><text x="115.1" y="19.5" textLength="17" lengthAdjust="spacingAndGlyphs">20</text><text x="140" y="19.5" textLength="17" lengthAdjust="spacingAndGlyphs">30</text><text x="164.9" y="19.5" textLength="17" lengthAdjust="spacingAndGlyphs">40</text>
</g>
<path d="M58,23.5H173" stroke="#333" stroke-width="1"/>
<text class="t" x="119" y="42" font-size="12.5" text-anchor="middle" textLength="140" lengthAdjust="spacingAndGlyphs">AEOAE treatment (µl/ml)</text>
<g class="t" font-size="14" text-anchor="end">
<text transform="translate(19.5,11) rotate(-53)" textLength="40" lengthAdjust="spacingAndGlyphs">water</text>
<text transform="translate(44.4,11) rotate(-53)" textLength="78" lengthAdjust="spacingAndGlyphs">glyphosate</text>
</g>
<text class="t" font-size="16.4" text-anchor="middle" transform="translate(-38,-56.2) scale(1.2,1) rotate(-90)">Mortality rate (%)</text>
</g>
</svg>
</body></html>
